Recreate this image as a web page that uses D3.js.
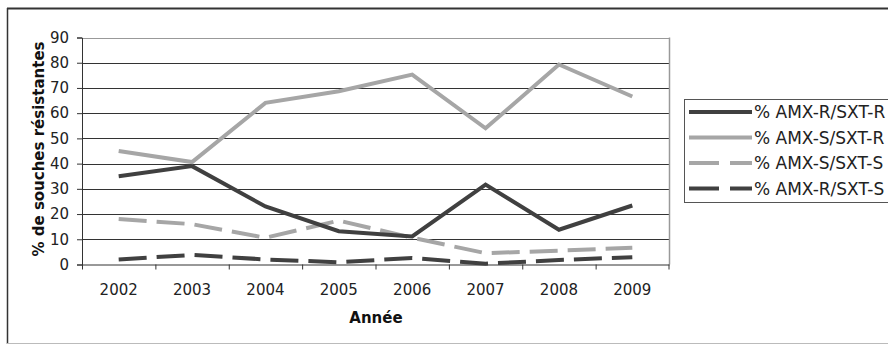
<!DOCTYPE html>
<html>
<head>
<meta charset="utf-8">
<script src="https://cdn.jsdelivr.net/npm/d3@7"></script>
<style>
  html, body { margin: 0; padding: 0; background: #fff; }
  svg { display: block; font-family: "DejaVu Sans", Verdana, sans-serif; }
</style>
</head>
<body>
<svg id="chart" width="888" height="345"></svg>
<script>
// Years on the x axis
const years = ["2002", "2003", "2004", "2005", "2006", "2007", "2008", "2009"];
const yTicks = [0, 10, 20, 30, 40, 50, 60, 70, 80, 90];

// Percentage of resistant strains per phenotype
const amxR_sxtR = [35, 39, 23, 13.2, 11.1, 31.7, 13.8, 23.4];
const amxS_sxtR = [45, 40.6, 64.1, 68.7, 75.3, 54.0, 79.3, 66.6];
const amxS_sxtS = [18, 16, 10.6, 17.4, 10.6, 4.5, 5.5, 6.6];
const amxR_sxtS = [2.0, 3.8, 2.0, 0.9, 2.6, 0.3, 1.8, 2.9];

const seriesNames = ["% AMX-R/SXT-R", "% AMX-S/SXT-R", "% AMX-S/SXT-S", "% AMX-R/SXT-S"];
const seriesValues = [amxR_sxtR, amxS_sxtR, amxS_sxtS, amxR_sxtS];
const seriesColors = ["#404040", "#a6a6a6", "#a6a6a6", "#404040"];
const seriesDash = [null, null, "28,10", "28,10"];

const svg = d3.select("#chart");

// Outer frame
svg.append("line").attr("x1", 7).attr("x2", 888).attr("y1", 8.5).attr("y2", 8.5)
  .attr("stroke", "#333").attr("stroke-width", 2);
svg.append("line").attr("x1", 7.5).attr("x2", 7.5).attr("y1", 8).attr("y2", 344)
  .attr("stroke", "#333").attr("stroke-width", 1.5);
svg.append("line").attr("x1", 7).attr("x2", 888).attr("y1", 343.5).attr("y2", 343.5)
  .attr("stroke", "#bbb").attr("stroke-width", 1);

const plot = { left: 82, right: 669, top: 37.5, bottom: 264.5 };

const x = d3.scaleBand().domain(years).range([plot.left, plot.right]);
const y = d3.scaleLinear().domain([0, 90]).range([plot.bottom, plot.top]);

// Horizontal gridlines
svg.append("g").selectAll("line").data(yTicks.filter(d => d > 0)).join("line")
  .attr("x1", plot.left).attr("x2", plot.right)
  .attr("y1", d => Math.round(y(d)) + 0.5).attr("y2", d => Math.round(y(d)) + 0.5)
  .attr("stroke", d => d === 90 ? "#999" : "#333").attr("stroke-width", 1);

// Right edge of plot area
svg.append("line").attr("x1", plot.right + 0.5).attr("x2", plot.right + 0.5)
  .attr("y1", plot.top).attr("y2", plot.bottom)
  .attr("stroke", "#999").attr("stroke-width", 1.5);

// Y axis
const yAxis = svg.append("g")
  .attr("transform", `translate(${plot.left},0)`)
  .call(d3.axisLeft(y).tickValues(yTicks).tickSize(5).tickPadding(8));
yAxis.select(".domain").attr("stroke", "#333");
yAxis.selectAll(".tick line").attr("stroke", "#333");
yAxis.selectAll(".tick text").attr("font-size", 15).attr("fill", "#222")
  .attr("font-family", "DejaVu Sans, Verdana, sans-serif");

// X axis with ticks between categories
const xAxis = svg.append("g")
  .attr("transform", `translate(0,${plot.bottom})`)
  .call(d3.axisBottom(x).tickSize(0).tickPadding(20));
xAxis.select(".domain").attr("stroke", "#333");
xAxis.selectAll(".tick text").attr("font-size", 15).attr("fill", "#222")
  .attr("font-family", "DejaVu Sans, Verdana, sans-serif");
svg.append("g").selectAll("line").data(years).join("line")
  .attr("x1", d => x(d) + 0.5).attr("x2", d => x(d) + 0.5)
  .attr("y1", plot.bottom).attr("y2", plot.bottom + 5)
  .attr("stroke", "#333");
svg.append("line")
  .attr("x1", plot.right).attr("x2", plot.right)
  .attr("y1", plot.bottom).attr("y2", plot.bottom + 5).attr("stroke", "#333");

// Axis titles
svg.append("text").attr("x", 376).attr("y", 323)
  .attr("text-anchor", "middle").attr("font-size", 15).attr("font-weight", "bold")
  .attr("fill", "#111").text("Année");
svg.append("text")
  .attr("transform", `translate(44,${(plot.top + plot.bottom) / 2 - 2}) rotate(-90)`)
  .attr("text-anchor", "middle").attr("font-size", 15).attr("font-weight", "bold")
  .attr("fill", "#111").text("% de souches résistantes");

// Series lines
const line = d3.line()
  .x((d, i) => x(years[i]) + x.bandwidth() / 2)
  .y(d => y(d));

// Draw in order so the lighter solid line sits beneath
const drawOrder = [3, 2, 0, 1];
drawOrder.forEach(k => {
  svg.append("path")
    .datum(seriesValues[k])
    .attr("d", line)
    .attr("fill", "none")
    .attr("stroke", seriesColors[k])
    .attr("stroke-width", 4)
    .attr("stroke-linejoin", "miter")
    .attr("stroke-dasharray", seriesDash[k]);
});

// Legend
const legend = svg.append("g");
legend.append("rect").attr("x", 684.5).attr("y", 99.5).attr("width", 210).attr("height", 103)
  .attr("fill", "#fff").attr("stroke", "#555").attr("stroke-width", 1);
seriesNames.forEach((name, i) => {
  const ly = 112 + i * 25.5;
  legend.append("line")
    .attr("x1", 689).attr("x2", 752).attr("y1", ly).attr("y2", ly)
    .attr("stroke", seriesColors[i]).attr("stroke-width", 4)
    .attr("stroke-dasharray", seriesDash[i] ? "30,11" : null);
  legend.append("text").attr("x", 754).attr("y", ly + 6)
    .attr("font-size", 17).attr("fill", "#222").text(name);
});
</script>
</body>
</html>
